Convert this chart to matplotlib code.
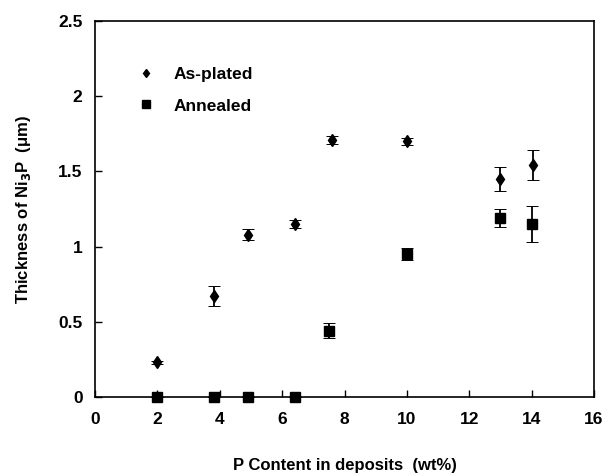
import numpy as np
import matplotlib.pyplot as plt

plt.rcParams['font.family'] = ['Liberation Sans', 'DejaVu Sans']
plt.rcParams['font.weight'] = 'bold'

# as-plated
p_plated = [2.0, 3.8, 4.9, 6.4, 7.6, 10.0, 13.0, 14.05]
t_plated = [0.23, 0.67, 1.08, 1.15, 1.71, 1.70, 1.45, 1.54]
e_plated = [0.01, 0.067, 0.035, 0.025, 0.025, 0.025, 0.08, 0.10]

# annealed
p_ann = [2.0, 3.8, 4.9, 6.4, 7.5, 10.0, 13.0, 14.0]
t_ann = [0.0, 0.0, 0.0, 0.0, 0.44, 0.95, 1.19, 1.15]
e_ann = [0.0, 0.0, 0.0, 0.0, 0.05, 0.04, 0.06, 0.12]

fig = plt.figure(figsize=(6.1, 4.76), dpi=100)
ax = fig.add_axes([95/610, 1 - 397/476, 499/610, 376/476])

for p, t, e in [(p_plated, t_plated, e_plated), (p_ann, t_ann, e_ann)]:
    eb = ax.errorbar(p, t, yerr=e, fmt='none', ecolor='black',
                     elinewidth=1.3, capsize=4, capthick=0.7)
    for cap in eb[1]:
        cap.set_color('0.55')
ax.plot(p_plated, t_plated, 'kd', markersize=6, label='As-plated', clip_on=False)
ax.plot(p_ann, t_ann, 'ks', markersize=7, label='Annealed', clip_on=False)

ax.set_xlim(0, 16)
ax.set_ylim(0, 2.5)
ax.set_xticks(np.arange(0, 17, 2))
ax.set_yticks([0, 0.5, 1, 1.5, 2, 2.5])
ax.set_yticklabels(['0', '0.5', '1', '1.5', '2', '2.5'])
ax.tick_params(direction='in', length=5, width=1, labelsize=12.5, pad=11)
ax.tick_params(axis='y', pad=9)
for s in ax.spines.values():
    s.set_linewidth(1.2)

ax.set_xlabel('P Content in deposits  (wt%)', fontsize=12, fontweight='bold', labelpad=22)
ax.set_ylabel('Thickness of Ni$_{\\mathbf{3}}$P  (\u03bcm)', fontsize=12, fontweight='bold', labelpad=18)

leg = ax.legend(loc='upper left', bbox_to_anchor=(0.06, 0.92), frameon=False,
                handlelength=0.6, handletextpad=1.3, labelspacing=0.95, fontsize=12.5,
                numpoints=1, markerscale=0.75)

fig.savefig('out.png', dpi=100)
